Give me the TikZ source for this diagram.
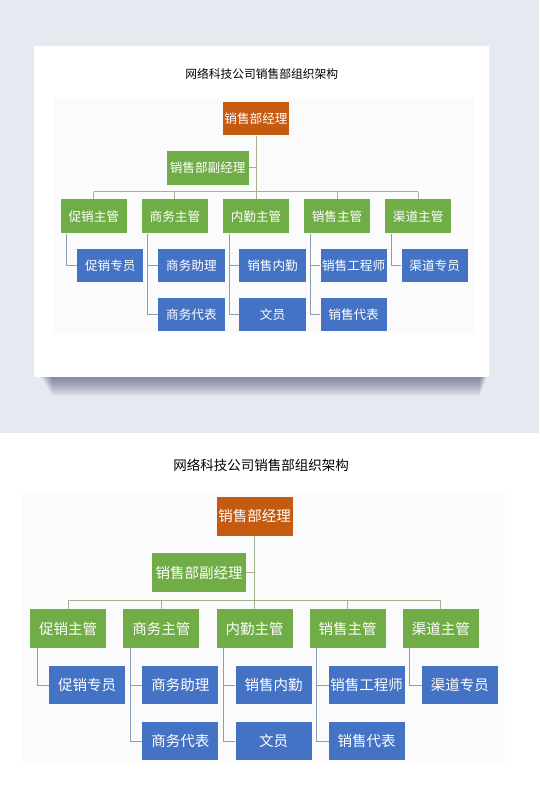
\documentclass[tikz,border=0pt]{standalone}
\usepackage{fontspec}
\setmainfont{Noto Sans CJK SC}
\definecolor{orgorange}{HTML}{C55A11}
\definecolor{orggreen}{HTML}{70AD47}
\definecolor{orgblue}{HTML}{4472C4}
\definecolor{glinec}{HTML}{A3B590}
\definecolor{blinec}{HTML}{8C9DB8}
\definecolor{topbg}{HTML}{E5E9F0}
\definecolor{faintbg}{HTML}{FBFBFB}
\tikzset{
  box/.style={inner sep=0pt, text=white, font=\fontsize{14.5}{17}\selectfont, draw=none},
  topbox/.style={box, fill=orgorange, minimum width=76pt, minimum height=39pt},
  vicebox/.style={box, fill=orggreen, minimum width=94pt, minimum height=39pt},
  gbox/.style={box, fill=orggreen, minimum width=76pt, minimum height=39pt},
  bbox/.style={box, fill=orgblue, minimum width=76pt, minimum height=38pt},
  gline/.style={draw=glinec, line width=1pt},
  bline/.style={draw=blinec, line width=1pt},
  titletext/.style={inner sep=0pt, text=black, font=\fontsize{13.5}{16}\selectfont}
}
\newcommand\orgchart[1]{%
  \fill[faintbg] (-232.5,-23) rectangle (250.5,247);
  \node[titletext] (#1title) at (6.5,-51) {网络科技公司销售部组织架构};
  \node[topbox] (#1top) at (0,0) {销售部经理};
  \node[vicebox] (#1vice) at (-55.5,56.5) {销售部副经理};
  \coordinate (#1bar) at (0,84);
  \node[gbox] (#1g1) at (-186.4,112.5) {促销主管};
  \node[gbox] (#1g2) at (-93.2,112.5) {商务主管};
  \node[gbox] (#1g3) at (0,112.5) {内勤主管};
  \node[gbox] (#1g4) at (93.2,112.5) {销售主管};
  \node[gbox] (#1g5) at (186.4,112.5) {渠道主管};
  \node[bbox] (#1b1) at (-167.4,169) {促销专员};
  \node[bbox] (#1b2) at (-74.2,169) {商务助理};
  \node[bbox] (#1b3) at (19,169) {销售内勤};
  \node[bbox] (#1b4) at (112.2,169) {销售工程师};
  \node[bbox] (#1b5) at (205.4,169) {渠道专员};
  \node[bbox] (#1c2) at (-74.2,225) {商务代表};
  \node[bbox] (#1c3) at (19,225) {文员};
  \node[bbox] (#1c4) at (112.2,225) {销售代表};
  \coordinate (#1v1) at (-217.4,0);
  \coordinate (#1v2) at (-124.2,0);
  \coordinate (#1v3) at (-31,0);
  \coordinate (#1v4) at (62.2,0);
  \coordinate (#1v5) at (155.4,0);
  \draw[gline] (#1top.south) -- (#1g3.north);
  \draw[gline] (#1vice.east) -- (#1vice.east -| #1top.south);
  \draw[gline] (#1g1.north |- #1bar) -- (#1g5.north |- #1bar);
  \foreach \k in {1,2,4,5} {\draw[gline] (#1g\k.north |- #1bar) -- (#1g\k.north);}
  \foreach \k in {1,...,5} {\draw[bline] (#1g\k.south -| #1v\k) |- (#1b\k.west);}
  \foreach \k in {2,3,4} {\draw[bline] (#1g\k.south -| #1v\k) |- (#1c\k.west);}
}
\begin{document}
\begin{tikzpicture}[x=1pt,y=-1pt]
  \useasboundingbox (0,0) rectangle (539,812);
  \fill[white] (0,0) rectangle (539,812);
  \fill[topbg] (0,0) rectangle (539,433);
  % soft shadow of the card
  \foreach \i in {0,...,24} {
    \fill[black!60!blue!40!black, opacity=0.018] (40+\i*0.5,150+\i) rectangle (487-\i*0.3,377+\i*0.8);
  }
  \fill[white] (34,46) rectangle (489,377);
  \begin{scope}[shift={(256,118.5)}, scale=0.87, transform shape]
    \orgchart{t}
  \end{scope}
  \begin{scope}[shift={(254.5,516)}]
    \orgchart{m}
  \end{scope}
\end{tikzpicture}
\end{document}
